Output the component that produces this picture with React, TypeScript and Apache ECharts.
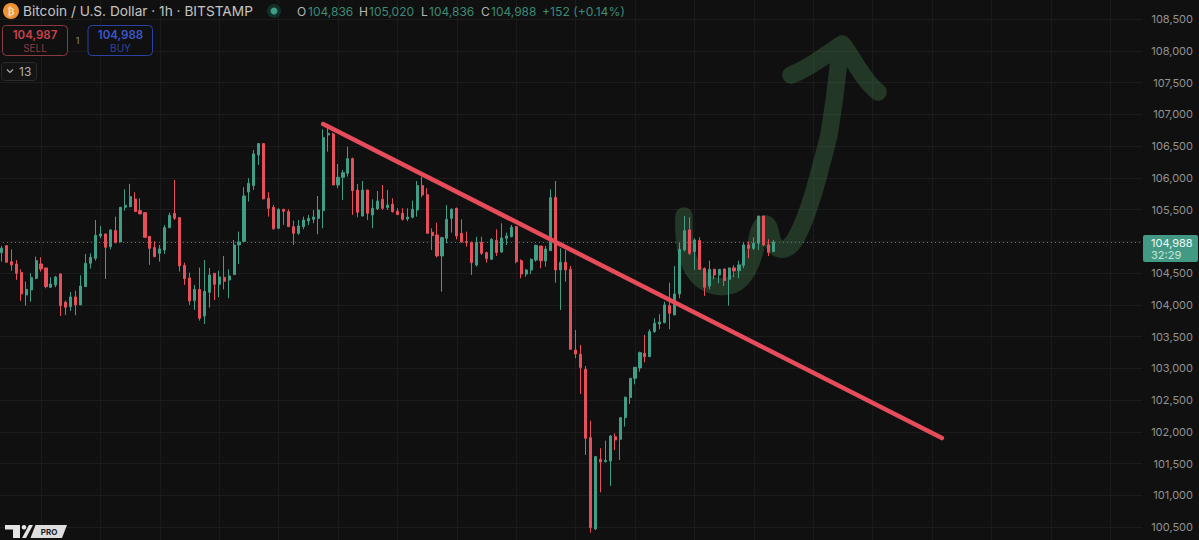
import React, { useEffect, useRef } from "react";
import * as echarts from "echarts";

const opens = [
  104821,104931,104679,104642,104506,104154,104233,104417,104642,104580,104275,104312,104485,104039,103970,104123,103997,104285,104653,104732,105083,105115,104915,105168,104989,
  105535,105545,105666,105482,105451,105078,104900,104810,104863,105215,105440,105372,104621,104422,104065,104243,103823,104196,104495,104322,104432,104390,104474,104942,104999,
  105776,105876,106359,106538,105677,105535,105204,105504,105467,105230,105125,105230,105319,105346,105361,
  105482,106674,106690,105886,106007,106070,106301,105807,105398,105807,105414,105509,105660,105529,105582,105472,105440,105351,105377,105492,105876,105734,105141,105099,104768,
  105046,105361,105519,105125,104994,104983,104627,104983,104820,104716,105015,104831,105046,105072,105230,104694,104484,104547,104705,104925,104689,104852,105692,104548,104669,
  104558,103288,103220,102984,101907,100469,101566,101529,101540,101923,101881,102222,102537,102842,103005,103235,103183,103577,103697,103719,103986,103839,104170,104863,105178,
  104837,105010,104569,104296,104558,104469,104564,104401,104580,104537,104622,104942,104889,104968,105398,104942,104836,
];
const closes = [
  104889,104669,104627,104495,104170,104243,104427,104695,104564,104285,104327,104438,103986,103960,104123,103997,104296,104653,104747,105094,105115,104905,105178,104978,105535,
  105567,105703,105467,105430,105062,104889,104758,104879,105215,105409,105362,104611,104411,104060,104243,103787,104212,104469,104322,104438,104370,104453,104942,104989,105713,
  105913,106375,106538,105666,105519,105199,105504,105472,105230,105126,105240,105335,105361,105382,105492,
  106632,106700,105886,106007,106080,106301,105797,105456,105807,105440,105519,105634,105519,105571,105466,105419,105346,105382,105503,105876,105729,105125,105088,104768,105057,
  105345,105503,105083,104988,104978,104663,104983,104810,104726,105030,104820,105051,105083,105219,104679,104484,104547,104715,104936,104694,104878,105687,104547,104669,104548,
  103298,103225,103010,101897,100490,101608,101524,101550,101933,101870,102222,102543,102842,103015,103246,103183,103577,103708,103729,103997,103866,104170,104874,105168,104810,
  105020,104558,104275,104558,104469,104558,104380,104580,104532,104627,104942,104889,104968,105398,104942,104826,104988,
];
const highs = [
  104926,104935,104873,104705,104558,104364,104495,104758,104747,104580,104432,104454,104496,104065,104202,104222,104464,104800,104810,105335,105241,105115,105188,105388,105535,
  105819,105903,105771,105677,105451,105078,105000,104942,105257,105451,105966,105372,104663,104506,104312,104585,104705,104580,104495,104537,104768,104558,105020,105152,105850,
  105992,106438,106538,106538,105771,105572,105519,105504,105504,105325,105335,105388,105414,105492,105713,
  106763,106831,106710,106217,106122,106490,106317,105902,105949,105807,105660,105792,105886,105807,105676,105519,105519,105519,105640,105949,106017,105834,105204,105293,105072,
  105571,105519,105529,105345,105151,104994,105072,105072,104836,105046,105188,105282,105135,105256,105240,104715,104558,104731,104946,104925,104925,105818,105949,104889,104863,
  104611,103603,103367,103036,102175,101618,101739,101860,101949,101975,102222,102553,102842,103015,103262,103524,103614,103787,103850,104049,104348,104611,104978,105398,105377,
  105047,105062,104590,104695,104569,104558,104564,104580,104622,104695,104989,104994,105062,105398,105398,105031,105020,
];
const lows = [
  104679,104669,104537,104391,104060,103986,104049,104401,104522,104259,104265,104275,103823,103839,103902,103834,103997,104285,104569,104695,105047,104406,104873,104968,104978,
  105482,105535,105467,105430,105062,104627,104747,104679,104800,105204,105336,104522,104312,103997,103918,103750,103697,103955,104075,104118,104243,104102,104474,104642,104999,
  105624,105808,106202,105666,105388,105178,105199,105257,105230,104942,105099,105188,105256,105283,105109,
  105204,106411,105886,105834,105650,106017,105414,105377,105388,105335,105204,105492,105493,105493,105450,105414,105325,105319,105361,105387,105692,105125,104862,104747,104206,
  104968,105135,105030,104978,104915,104469,104600,104784,104663,104705,104768,104820,104941,105062,104652,104416,104442,104484,104678,104574,104600,104852,104348,103918,104364,
  103298,103157,102595,101634,100411,100453,101046,101519,101146,101713,101555,102081,102438,102747,102947,103094,103183,103561,103614,103708,103614,103839,104102,104837,104784,
  104548,104548,104139,104244,104401,104338,104296,103986,104432,104417,104574,104732,104863,104863,104926,104768,104836,
];
const priceTicks = [100500,101000,101500,102000,102500,103000,103500,104000,104500,105000,105500,106000,106500,107000,107500,108000,108500];
const lastPrice = 104988;
const trendLine = [[65, 106846], [190, 101901]];
const totalBars = 231;

const arrowPath =
  "M 684 216 C 683 240, 686 262, 697 275 C 707 286, 720 289, 732 285 C 745 280, 753 262, 756 245 C 758 232, 761 223, 766 224 C 771 226, 770 240, 775 246 C 781 252, 790 250, 797 236 C 810 212, 820 170, 829 135 C 834 105, 837 80, 839 60 M 791 75 C 810 68, 825 55, 842 44 C 852 55, 862 80, 878 92";
echarts.graphic.registerShape("handArrow", echarts.graphic.extendPath(arrowPath, {}) as any);

const GREEN = "#429d87";
const RED = "#e5505a";
const FONT = "Inter, 'Noto Sans', sans-serif";

function txt(text: string, x: number, y: number, fill: string, fontSize: number, extra: any = {}) {
  return { type: "text", x, y, z: 20, style: { text, fill, fontSize, fontFamily: FONT, verticalAlign: "middle", ...extra } };
}

export default function App() {
  const ref = useRef<HTMLDivElement>(null);
  useEffect(() => {
    const chart = echarts.init(ref.current!, undefined, { renderer: "svg" });
    const categories = Array.from({ length: totalBars }, (_, i) => String(i));
    chart.setOption({
      animation: false,
      backgroundColor: "#101010",
      grid: { left: -1.075, width: 1143.45, top: -12.75, height: 571.5, containLabel: false, outerBoundsMode: "none" },
      xAxis: {
        type: "category",
        data: categories,
        boundaryGap: true,
        axisLine: { show: false },
        axisTick: { show: false },
        axisLabel: { show: false },
        splitLine: {
          show: true,
          alignWithLabel: true,
          interval: (i: number) => (i - 8) % 12 === 0,
          lineStyle: { color: "#1b1b1b", width: 1 },
        },
      },
      yAxis: {
        type: "value",
        position: "right",
        min: 100000,
        max: 109000,
        interval: 500,
        axisLine: { show: false },
        axisTick: { show: false },
        splitLine: { show: true, lineStyle: { color: "#1c1c1c", width: 1 } },
        axisLabel: {
          color: "#929292",
          fontSize: 11,
          fontFamily: FONT,
          align: "right",
          margin: 50.6,
          formatter: (v: number) => (priceTicks.includes(v) ? v.toLocaleString("en-US") : ""),
        },
      },
      series: [
        {
          type: "candlestick",
          barWidth: 2.6,
          itemStyle: { color: GREEN, color0: RED, borderColor: GREEN, borderColor0: RED, borderWidth: 1 },
          data: opens.map((o, i) => [o, closes[i], lows[i], highs[i]]),
          markLine: {
            silent: true,
            symbol: "none",
            label: { show: false },
            lineStyle: { color: "#3f8f7a", type: [1, 3], width: 1 },
            data: [{ yAxis: lastPrice }],
          },
        },
        {
          type: "line",
          data: trendLine,
          symbol: "none",
          z: 5,
          lineStyle: { color: "#e64c5a", width: 4.5, cap: "round" },
        },
      ],
      graphic: [
        { type: "handArrow", z: 1, style: { fill: "none", stroke: "rgba(73,130,79,0.35)", lineWidth: 17.5, lineCap: "round", lineJoin: "round" } },
        { type: "circle", z: 20, shape: { cx: 11, cy: 11, r: 8 }, style: { fill: "#f0922e" } },
        txt("₿", 11, 11, "#f6e3c8", 10, { align: "center", fontWeight: "bold", fontFamily: "DejaVu Sans" }),
        txt("Bitcoin / U.S. Dollar · 1h · BITSTAMP", 23, 11, "#c4c4c4", 13.7),
        { type: "circle", z: 20, shape: { cx: 274, cy: 11, r: 7 }, style: { fill: "#12302a" } },
        { type: "circle", z: 20, shape: { cx: 274, cy: 11, r: 3.5 }, style: { fill: "#3f9c85" } },
        txt("O", 297, 11, "#b4b4b4", 12),
        txt("104,836", 308, 11, "#3d8a76", 12),
        txt("H", 359, 11, "#b4b4b4", 12),
        txt("105,020", 369, 11, "#3d8a76", 12),
        txt("L", 421, 11, "#b4b4b4", 12),
        txt("104,836", 429, 11, "#3d8a76", 12),
        txt("C", 481, 11, "#b4b4b4", 12),
        txt("104,988", 491, 11, "#3d8a76", 12),
        txt("+152 (+0.14%)", 542, 11, "#3d8a76", 12.2),
        { type: "rect", z: 20, shape: { x: 2.5, y: 25.5, width: 65, height: 30, r: 4 }, style: { fill: "#101010", stroke: "#8a3a40", lineWidth: 1 } },
        txt("104,987", 35, 35, "#c8444e", 11.5, { align: "center", fontWeight: 600 }),
        txt("SELL", 35, 47.5, "#8f3a42", 10, { align: "center" }),
        txt("1", 77.5, 40, "#8c8c8c", 9, { align: "center" }),
        { type: "rect", z: 20, shape: { x: 88, y: 25.5, width: 64.5, height: 30, r: 4 }, style: { fill: "#101010", stroke: "#2c42a4", lineWidth: 1 } },
        txt("104,988", 120.5, 35, "#3f56c8", 11.5, { align: "center", fontWeight: 600 }),
        txt("BUY", 120.5, 47.5, "#2f45a4", 10, { align: "center" }),
        { type: "rect", z: 20, shape: { x: 1.5, y: 62.5, width: 35, height: 18, r: 3 }, style: { fill: "#141414", stroke: "#2a2a2a", lineWidth: 1 } },
        { type: "polyline", z: 20, shape: { points: [[7, 69.5], [10, 72.5], [13, 69.5]] }, style: { fill: "none", stroke: "#b0b0b0", lineWidth: 1.2 } },
        txt("13", 19, 71.5, "#b0b0b0", 12),
        { type: "rect", z: 20, shape: { x: 1143, y: 235, width: 55, height: 27, r: 2 }, style: { fill: "#429a85" } },
        txt("104,988", 1151, 243, "#f0f7f5", 11),
        txt("32:29", 1151, 255, "#c8e4dc", 11),
        { type: "polygon", z: 20, shape: { points: [[5, 525], [20, 525], [20, 538], [13, 538], [13, 529.5], [5, 529.5]] }, style: { fill: "#e4e4e4" } },
        { type: "circle", z: 20, shape: { cx: 24, cy: 527.3, r: 2.3 }, style: { fill: "#e4e4e4" } },
        { type: "polygon", z: 20, shape: { points: [[29, 525], [33, 525], [26, 538], [22, 538]] }, style: { fill: "#e4e4e4" } },
        { type: "polygon", z: 20, shape: { points: [[35.5, 525], [67, 525], [62, 538], [30.5, 538]] }, style: { fill: "#dedede" } },
        txt("PRO", 49, 532, "#1a1a1a", 8, { align: "center", fontWeight: "bold" }),
      ],
    });
    return () => chart.dispose();
  }, []);
  return <div ref={ref} style={{ position: "fixed", left: 0, top: 0, width: 1199, height: 540 }} />;
}
